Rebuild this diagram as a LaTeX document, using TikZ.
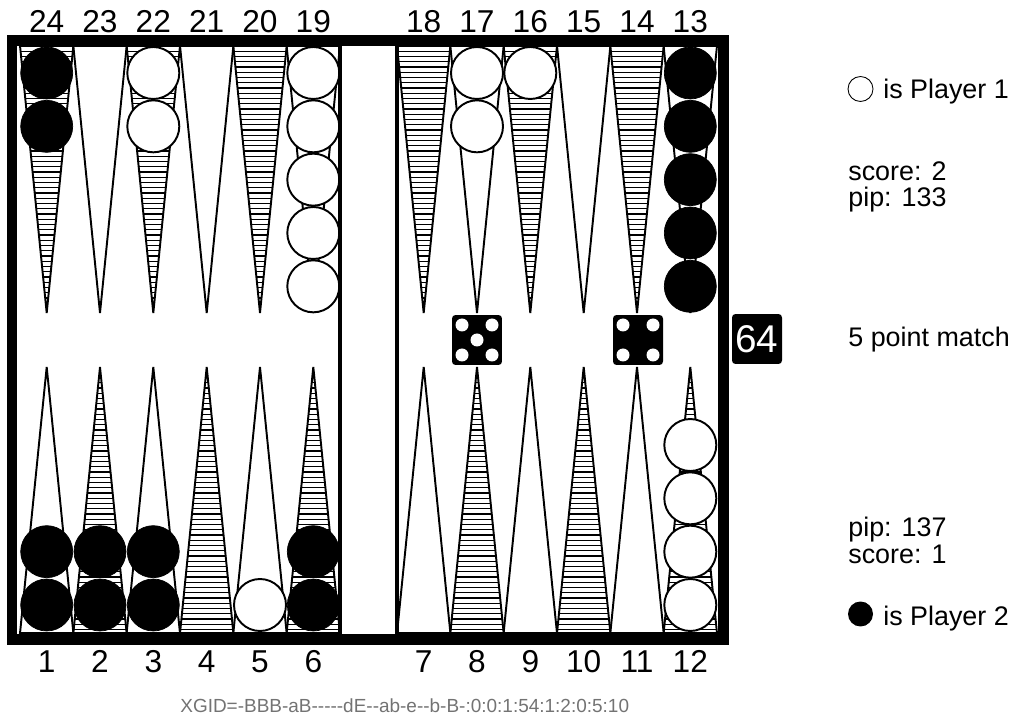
\documentclass[tikz,border=0pt]{standalone}
\usepackage{fontspec}
\setmainfont{Liberation Sans}
\usepackage{tikz}
\usetikzlibrary{positioning,calc}
\newcommand{\hy}{-\kern0pt}

\tikzset{
	point/.style = {draw, line width = 1.1pt},
	hatched/.style = {point, path picture = {
		\foreach \h in {1,...,51}
			\draw [line width = 0.7pt] ([yshift = -\h*0.105cm] path picture bounding box.north west) -- ([yshift = -\h*0.105cm] path picture bounding box.north east);}},
	bchk/.style = {fill = black},
	wchk/.style = {draw, fill = white, line width = 1.1pt},
	lbl/.style = {anchor = base, inner sep = 0pt, font = \fontsize{18}{20}\selectfont},
	info/.style = {anchor = base west, inner sep = 0pt, font = \fontsize{15.3}{18}\selectfont},
	die/.style = {fill = black, rounded corners = 2pt, minimum size = 1cm, inner sep = 0pt},
	pip/.style = {fill = white},
}

\begin{document}
\begin{tikzpicture}[x = 0.02cm, y = -0.02cm]
		\useasboundingbox (0,0) rectangle (1015,719);
		\foreach \x [count = \n] in {46.7, 100, 153.3, 206.7, 260, 313.3, 423.7, 477, 530.3, 583.7, 637, 690.3} {
			\ifodd\n \def\tst{hatched}\def\bst{point}\else \def\tst{point}\def\bst{hatched}\fi
			\draw [\tst] (\x-26.67,46) -- (\x+26.67,46) -- (\x,313) -- cycle;
			\draw [\bst] (\x-26.67,633) -- (\x+26.67,633) -- (\x,367) -- cycle;
			\node [lbl] (top\n) at (\x,33) {\the\numexpr25-\n\relax};
			\node [lbl] (bot\n) at (\x,672) {\n};
		}
		\foreach \x/\k/\s in {46.7/2/bchk, 153.3/2/wchk, 313.3/5/wchk, 477/2/wchk, 530.3/1/wchk, 690.3/5/bchk}
			\foreach \i in {1,...,\k}
				\draw [\s] (\x,73+53.33*\i-53.33) circle (26);
		\foreach \x/\k/\s in {46.7/2/bchk, 100/2/bchk, 153.3/2/bchk, 260/1/wchk, 313.3/2/bchk, 690.3/4/wchk}
			\foreach \i in {1,...,\k}
				\draw [\s] (\x,605-53.33*\i+53.33) circle (26);
		\fill (7,35) rectangle (729,46);
		\fill (7,634) rectangle (729,645);
		\fill (7,35) rectangle (17,645);
		\fill (718,35) rectangle (729,645);
		\draw [line width = 2pt] (340,46) -- (340,634);
		\draw [line width = 2pt] (397,46) -- (397,634);
		\node [die] (die5) at (477,340) {};
		\foreach \dx/\dy in {-15/-15, 15/-15, 0/0, -15/15, 15/15}
			\fill [pip] ([shift = {(\dx,\dy)}] die5.center) circle (6.5);
		\node [die] (die4) at (638,340) {};
		\foreach \dx/\dy in {-15/-15, 15/-15, -15/15, 15/15}
			\fill [pip] ([shift = {(\dx,\dy)}] die4.center) circle (6.5);
		\node [die, text = white, font = \fontsize{22}{22}\selectfont] (cube) at (757,339) {64};
		\node [draw, circle, minimum size = 0.5cm, inner sep = 0pt, line width = 0.5pt] (p1mark) at (860.5,89) {};
		\node [info] (p1) at (883,99) {is Player 1};
		\node [info] (score1) at (848,181) {score: 2};
		\node [info] (pip1) at (848,207) {pip: 133};
		\node [info, anchor = west] (match) at (848,340) {5 point match};
		\node [info] (pip2) at (848,537) {pip: 137};
		\node [info] (score2) at (848,564) {score: 1};
		\node [fill, circle, minimum size = 0.5cm, inner sep = 0pt] (p2mark) at (860.5,614) {};
		\node [info] (p2) at (883,625) {is Player 2};
		\node [anchor = base west, inner sep = 0pt, font = \fontsize{10.8}{13}\selectfont, text = black!55] (xgid) at (180,712) {XGID=\hy BBB\hy aB\hy\hy\hy\hy\hy dE\hy\hy ab\hy e\hy\hy b\hy B\hy:0:0:1:54:1:2:0:5:10};
\end{tikzpicture}
\end{document}
